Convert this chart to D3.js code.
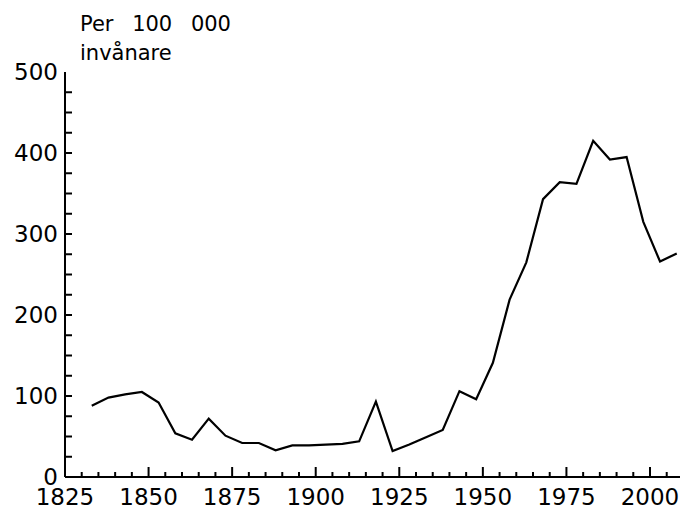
<!DOCTYPE html>
<html>
<head>
<meta charset="utf-8">
<script src="https://cdn.jsdelivr.net/npm/d3@7"></script>
<style>
  html, body { margin: 0; padding: 0; background: #fff; }
  svg text { font-family: "DejaVu Sans", sans-serif; fill: #000; }
</style>
</head>
<body>
<div id="chart"></div>
<script>
var years = [1833, 1838, 1843, 1848, 1853, 1858, 1863, 1868, 1873, 1878,
             1883, 1888, 1893, 1898, 1903, 1908, 1913, 1918, 1923, 1928,
             1933, 1938, 1943, 1948, 1953, 1958, 1963, 1968, 1973, 1978,
             1983, 1988, 1993, 1998, 2003, 2008];
var rates = [88, 98, 102, 105, 92, 54, 46, 72, 51, 42,
             42, 33, 39, 39, 40, 41, 44, 93, 32, 40,
             49, 58, 106, 96, 141, 219, 265, 343, 364, 362,
             415, 392, 395, 315, 266, 276];
var xTicks = [1825, 1850, 1875, 1900, 1925, 1950, 1975, 2000];
var yTicks = [0, 100, 200, 300, 400, 500];
var titleLines = ["Per 100 000", "invånare"];

var W = 680, H = 509;
var x0 = 65, y0 = 477;

var x = d3.scaleLinear().domain([1825, 2000]).range([x0, 650]);
var y = d3.scaleLinear().domain([0, 500]).range([y0, 72]);

var svg = d3.select("#chart").append("svg")
    .attr("width", W)
    .attr("height", H);

// minor ticks every 5 years on x, every 25 on y
var xMinor = d3.range(1830, 2010, 5);
var yMinor = d3.range(25, 500, 25);

var axes = svg.append("g")
    .attr("stroke", "#000")
    .attr("stroke-width", 2);

axes.append("line")
    .attr("x1", x0).attr("x2", W)
    .attr("y1", y0).attr("y2", y0);

axes.append("line")
    .attr("x1", x0).attr("x2", x0)
    .attr("y1", y0).attr("y2", y(500));

axes.selectAll(".xtick")
    .data(xMinor)
    .enter().append("line")
    .attr("class", "xtick")
    .attr("x1", function(d) { return x(d); })
    .attr("x2", function(d) { return x(d); })
    .attr("y1", y0)
    .attr("y2", function(d) { return d % 25 === 0 ? y0 - 10 : y0 - 5; });

axes.selectAll(".ytick")
    .data(yMinor)
    .enter().append("line")
    .attr("class", "ytick")
    .attr("x1", x0)
    .attr("x2", x0 + 7)
    .attr("y1", function(d) { return y(d); })
    .attr("y2", function(d) { return y(d); });

svg.selectAll(".xlabel")
    .data(xTicks)
    .enter().append("text")
    .attr("class", "xlabel")
    .attr("x", function(d) { return x(d); })
    .attr("y", 505)
    .attr("text-anchor", "middle")
    .style("font-size", "23px")
    .text(function(d) { return d; });

svg.selectAll(".ylabel")
    .data(yTicks)
    .enter().append("text")
    .attr("class", "ylabel")
    .attr("x", 58)
    .attr("y", function(d) { return y(d); })
    .attr("dy", "0.34em")
    .attr("text-anchor", "end")
    .style("font-size", "23px")
    .text(function(d) { return d; });

svg.selectAll(".title")
    .data(titleLines)
    .enter().append("text")
    .attr("class", "title")
    .attr("x", 80)
    .attr("y", function(d, i) { return 31 + i * 29; })
    .style("font-size", "21px")
    .style("word-spacing", "12px")
    .text(function(d) { return d; });

var line = d3.line()
    .x(function(d, i) { return x(years[i]); })
    .y(function(d) { return y(d); });

svg.append("path")
    .datum(rates)
    .attr("fill", "none")
    .attr("stroke", "#000")
    .attr("stroke-width", 2.2)
    .attr("stroke-linejoin", "miter")
    .attr("d", line);
</script>
</body>
</html>
